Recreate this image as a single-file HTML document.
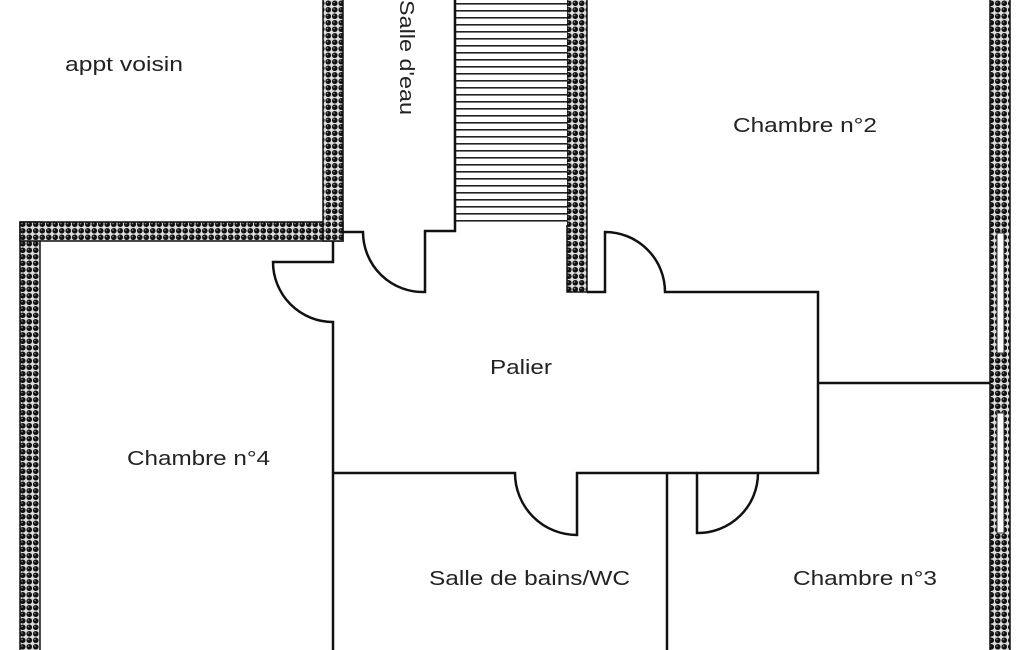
<!DOCTYPE html>
<html><head><meta charset="utf-8"><style>
html,body{margin:0;padding:0;background:#fff;width:1025px;height:650px;overflow:hidden}
svg{display:block}
text{font-family:"Liberation Sans",Arial,sans-serif;font-size:20px;fill:#222}
</style></head><body>
<svg width="1025" height="650" viewBox="0 0 1025 650" xmlns="http://www.w3.org/2000/svg">
<defs>
<pattern id="w" width="6.5" height="6.5" patternUnits="userSpaceOnUse">
<rect width="6.5" height="6.5" fill="#ddd"/>
<circle cx="3.25" cy="3.25" r="2.8" fill="#111"/>
<circle cx="2.5" cy="2.5" r="0.8" fill="#888"/>
</pattern>
<pattern id="st" width="10" height="7" patternUnits="userSpaceOnUse">
<rect width="10" height="7" fill="#fff"/>
<rect y="3" width="10" height="1.6" fill="#222"/>
</pattern>
</defs>
<g stroke="#111" stroke-width="1.5" fill="url(#w)">
<rect x="20" y="222" width="20" height="430"/>
<rect x="20" y="222" width="323" height="19"/>
<rect x="323" y="-2" width="20" height="243"/>
<rect x="567" y="-2" width="20" height="294"/>
<rect x="990" y="-2" width="20" height="654"/>
</g>
<g fill="#fff" stroke="#333" stroke-width="1">
<rect x="997" y="233" width="7" height="120"/>
<rect x="997" y="413" width="7" height="120"/>
</g>
<rect x="455" y="0" width="112" height="225" fill="url(#st)"/>
<g fill="none" stroke="#111" stroke-width="2.5">
<path d="M455 0 V231 H425 V292 A60 60 0 0 1 363 232 H343"/>
<path d="M587 292 H605 V232 A60 60 0 0 1 665 292 H818 V473 H697 V533 A60 60 0 0 0 758 473"/>
<path d="M818 383 H990"/>
<path d="M333 241 V262 H273 A60 60 0 0 0 333 322 V650"/>
<path d="M333 473 H515 A62 62 0 0 0 577 535 V473 H697"/>
<path d="M667 473 V650"/>
</g>
<text x="65" y="71" textLength="118" lengthAdjust="spacingAndGlyphs">appt voisin</text>
<text x="733" y="132" textLength="144" lengthAdjust="spacingAndGlyphs">Chambre n°2</text>
<text x="490" y="374" textLength="62" lengthAdjust="spacingAndGlyphs">Palier</text>
<text x="127" y="465" textLength="143" lengthAdjust="spacingAndGlyphs">Chambre n°4</text>
<text x="429" y="585" textLength="201" lengthAdjust="spacingAndGlyphs">Salle de bains/WC</text>
<text x="793" y="585" textLength="144" lengthAdjust="spacingAndGlyphs">Chambre n°3</text>
<text transform="translate(400,0) rotate(90)" x="0" y="0" textLength="115" lengthAdjust="spacingAndGlyphs">Salle d'eau</text>
</svg>
</body></html>
